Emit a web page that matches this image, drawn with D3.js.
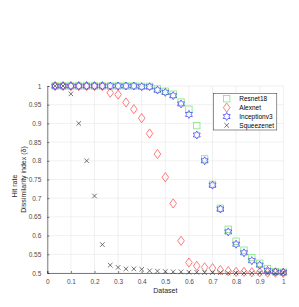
<!DOCTYPE html>
<html>
<head>
<meta charset="utf-8">
<script src="https://cdn.jsdelivr.net/npm/d3@7"></script>
<style>
  body { margin: 0; background: #fff; }
  text { font-family: "Liberation Sans", Arial, sans-serif; }
</style>
</head>
<body>
<div id="chart"></div>
<script>
// x positions: k/30, k = 1..30
var xs = d3.range(1, 31).map(function (k) { return k / 30; });

var resnet18 = [1, 1, 1, 1, 1, 1, 1, 1, 1, 1, 1, 0.999, 0.999, 0.992, 0.986, 0.978,
  0.957, 0.938, 0.894, 0.805, 0.737, 0.673, 0.617, 0.585, 0.561, 0.541, 0.526, 0.512, 0.504, 0.502];
var alexnet = [1, 1, 1, 1, 1, 1, 1, 0.982, 0.977, 0.956, 0.938, 0.914, 0.873, 0.818, 0.756, 0.686,
  0.586, 0.528, 0.519, 0.515, 0.513, 0.508, 0.505, 0.503, 0.503, 0.502, 0.502, 0.501, 0.501, 0.5];
var inceptionv3 = [1, 1, 1, 1, 1, 1, 1, 1, 1, 1, 1, 0.998, 0.998, 0.989, 0.983, 0.974,
  0.952, 0.924, 0.869, 0.8, 0.735, 0.671, 0.61, 0.577, 0.554, 0.533, 0.521, 0.507, 0.503, 0.502];
var squeezenet = [1, 1, 0.979, 0.9, 0.8, 0.706, 0.576, 0.521, 0.515, 0.511, 0.511, 0.51, 0.506, 0.505,
  0.504, 0.503, 0.503, 0.502, 0.502, 0.501, 0.501, 0.501, 0.5, 0.5, 0.5, 0.5, 0.5, 0.5, 0.5, 0.5];

var seriesNames = ["Resnet18", "Alexnet", "Inceptionv3", "Squeezenet"];
var xTicks = [0, 0.1, 0.2, 0.3, 0.4, 0.5, 0.6, 0.7, 0.8, 0.9, 1];
var yTicks = [0.5, 0.55, 0.6, 0.65, 0.7, 0.75, 0.8, 0.85, 0.9, 0.95, 1];

var W = 299, H = 307;
var margin = { top: 86, right: 16, bottom: 34, left: 47.3 };
var width = 283.3 - margin.left, height = 273 - margin.top;

var svg = d3.select("#chart").append("svg")
  .attr("width", W).attr("height", H);
var g = svg.append("g")
  .attr("transform", "translate(" + margin.left + "," + margin.top + ")");

var x = d3.scaleLinear().domain([0, 1]).range([0, width]);
var y = d3.scaleLinear().domain([0.5, 1]).range([height, 0]);

// grid
g.append("g").selectAll("line").data(xTicks).enter().append("line")
  .attr("x1", function (d) { return x(d); }).attr("x2", function (d) { return x(d); })
  .attr("y1", 0).attr("y2", height)
  .style("stroke", "#e6e6e6").style("stroke-width", 0.6);
g.append("g").selectAll("line").data(yTicks).enter().append("line")
  .attr("y1", function (d) { return y(d); }).attr("y2", function (d) { return y(d); })
  .attr("x1", 0).attr("x2", width)
  .style("stroke", "#e6e6e6").style("stroke-width", 0.6);

// axes
var xAxis = g.append("g")
  .attr("transform", "translate(0," + height + ")")
  .call(d3.axisBottom(x).tickValues(xTicks).tickSize(-2).tickPadding(6)
    .tickFormat(function (d) { return d3.format("")(d); }));
var yAxis = g.append("g")
  .call(d3.axisLeft(y).tickValues(yTicks).tickSize(-2).tickPadding(6)
    .tickFormat(function (d) { return d3.format("")(+d.toFixed(2)); }));
[xAxis, yAxis].forEach(function (a) {
  a.select(".domain").style("stroke", "#262626").style("stroke-width", 0.6);
  a.selectAll(".tick line").style("stroke", "#262626").style("stroke-width", 0.6);
  a.selectAll("text").style("fill", "#4d4d4d").style("font-size", "6.5px")
    .style("font-family", "Liberation Sans, Arial, sans-serif");
});

// hexagram path
function hexagram(r) {
  var pts = [];
  for (var i = 0; i < 12; i++) {
    var a = -Math.PI / 2 + i * Math.PI / 6;
    var rr = i % 2 === 0 ? r : r / Math.sqrt(3);
    pts.push([rr * Math.cos(a), rr * Math.sin(a)]);
  }
  return "M" + pts.join("L") + "Z";
}

var markers = {
  Resnet18: function (sel) {
    sel.append("rect").attr("x", -3.2).attr("y", -3.2).attr("width", 6.4).attr("height", 6.4)
      .style("fill", "none").style("stroke", "#7de87d").style("stroke-width", 0.8);
  },
  Alexnet: function (sel) {
    sel.append("path").attr("d", "M0,-4.6L3.3,0L0,4.6L-3.3,0Z")
      .style("fill", "none").style("stroke", "#ff5a5a").style("stroke-width", 0.8);
  },
  Inceptionv3: function (sel) {
    sel.append("path").attr("d", hexagram(4))
      .style("fill", "none").style("stroke", "#4848ff").style("stroke-width", 0.8);
  },
  Squeezenet: function (sel) {
    sel.append("path").attr("d", "M-2.3,-2.3L2.3,2.3M-2.3,2.3L2.3,-2.3")
      .style("fill", "none").style("stroke", "#3a3a3a").style("stroke-width", 0.7);
  }
};

var allSeries = [resnet18, alexnet, inceptionv3, squeezenet];
allSeries.forEach(function (vals, i) {
  var name = seriesNames[i];
  g.append("g").selectAll("g").data(vals).enter().append("g")
    .attr("transform", function (d, j) { return "translate(" + x(xs[j]) + "," + y(d) + ")"; })
    .each(function () { markers[name](d3.select(this)); });
});

// legend
var leg = svg.append("g").attr("transform", "translate(213.3,93.3)");
leg.append("rect").attr("width", 63.5).attr("height", 36.7)
  .style("fill", "#fff").style("stroke", "#262626").style("stroke-width", 0.5);
seriesNames.forEach(function (name, i) {
  var row = leg.append("g").attr("transform", "translate(0," + (5.4 + i * 8.9) + ")");
  var m = row.append("g").attr("transform", "translate(13.4,0)");
  markers[name](m);
  row.append("text").attr("x", 26).attr("y", 2.3)
    .style("font-size", "6.5px").style("fill", "#000").text(name);
});

// labels
svg.append("text")
  .attr("x", margin.left + width / 2).attr("y", 293)
  .attr("text-anchor", "middle").style("font-size", "7px").style("fill", "#262626")
  .text("Dataset");
svg.append("text")
  .attr("transform", "translate(16.5,186) rotate(-90)")
  .attr("text-anchor", "middle").style("font-size", "7px").style("fill", "#262626")
  .text("Hit rate");
svg.append("text")
  .attr("transform", "translate(26,179.5) rotate(-90)")
  .attr("text-anchor", "middle").style("font-size", "7px").style("fill", "#262626")
  .text("Dissimilarity index (δ)");
</script>
</body>
</html>
